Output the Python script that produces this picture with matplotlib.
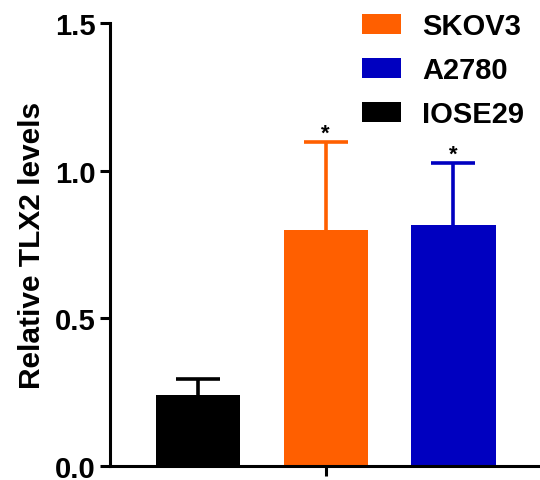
import matplotlib
matplotlib.use("Agg")
import matplotlib.pyplot as plt
from matplotlib.patches import Patch

plt.rcParams['font.family'] = ['Liberation Sans', 'DejaVu Sans']
plt.rcParams['font.weight'] = 'bold'

groups = ["IOSE29", "SKOV3", "A2780"]
values = [0.24, 0.80, 0.817]
errors = [0.055, 0.297, 0.209]
colors = ["#000000", "#FF5F00", "#0000C0"]
signif = ["", "*", "*"]
legend_order = ["SKOV3", "A2780", "IOSE29"]
yticks = [0.0, 0.5, 1.0, 1.5]

fig = plt.figure(figsize=(5.4, 4.81), dpi=100)
ax = fig.add_axes([0.2037, 0.0291, 0.7963 + 0.01, 0.921])

pos = [0, 1, 2]
for p, v, e, c, s in zip(pos, values, errors, colors, signif):
    ax.bar(p - 1, v, width=0.66, color=c, zorder=2)
    _, caps, _ = ax.errorbar(p - 1, v, yerr=[[0], [e]], ecolor=c, elinewidth=2.6,
                             capsize=15.5, capthick=2.6, fmt='none', zorder=1)
    caps[0].set_visible(False)
    if s:
        ax.text(p - 1, v + e - 0.005, s, ha='center', va='bottom',
                fontsize=16, fontweight='bold', color='black')

ax.set_xlim(-1.69, 1.72)
ax.set_ylim(0, 1.5)
ax.set_yticks(yticks)
ax.set_yticklabels([f"{t:.1f}" for t in yticks])
ax.set_xticks([0])
ax.set_xticklabels([""])
ax.spines['top'].set_visible(False)
ax.spines['right'].set_visible(False)
for sp in ['left', 'bottom']:
    ax.spines[sp].set_linewidth(2.2)
ax.tick_params(axis='both', width=2.2, length=7, labelsize=21)
ax.set_ylabel("Relative TLX2 levels", fontsize=21.5, fontweight='bold', labelpad=6)

cmap = dict(zip(groups, colors))
handles = [Patch(facecolor=cmap[g], edgecolor='none') for g in legend_order]
ax.legend(handles, legend_order, loc='upper left', bbox_to_anchor=(0.552, 1.051),
          frameon=False, fontsize=21, handlelength=1.35, handleheight=0.65,
          labelspacing=0.55, handletextpad=0.72, borderaxespad=0)

fig.savefig("out.png", dpi=100)
